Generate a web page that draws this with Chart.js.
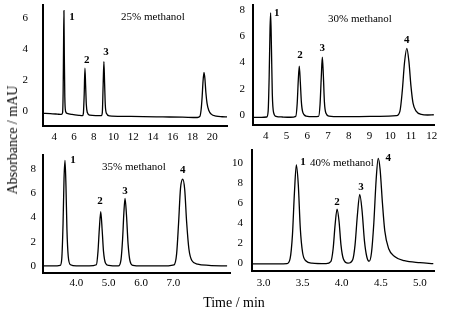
<!DOCTYPE html>
<html><head><meta charset="utf-8">
<script src="https://cdn.jsdelivr.net/npm/chart.js@4/dist/chart.umd.min.js"></script>
<style>
html,body{margin:0;padding:0;background:#fff;}
#wrap{position:relative;width:450px;height:318px;overflow:hidden;font-family:'Liberation Serif','Times New Roman',serif;color:#000;}
canvas{position:absolute;}
.lbl{position:absolute;white-space:nowrap;transform:translate(-50%,-50%);font-size:11px;line-height:1;}
#ytitle{position:absolute;left:13px;top:140px;white-space:nowrap;transform:translate(-50%,-50%) rotate(-90deg);font-size:14px;line-height:1;}
#xtitle{position:absolute;left:234px;top:303px;white-space:nowrap;transform:translate(-50%,-50%);font-size:14px;line-height:1;}
</style></head><body>
<div id="wrap">
<canvas id="c25"></canvas>
<canvas id="c30"></canvas>
<canvas id="c35"></canvas>
<canvas id="c40"></canvas>
<div class="lbl" style="left:153px;top:16px">25% methanol</div>
<div class="lbl" style="left:360px;top:18px">30% methanol</div>
<div class="lbl" style="left:134px;top:166px">35% methanol</div>
<div class="lbl" style="left:342px;top:162px">40% methanol</div>
<div id="ytitle">Absorbance / mAU</div>
<div id="xtitle">Time / min</div>
</div>
<script>
// ---- 25% methanol ----
const t25 = [2.86, 3.6, 4.3, 4.72, 4.84, 4.9, 4.94, 4.98, 5.02, 5.07, 5.14, 5.3, 5.8, 6.5, 6.86, 6.95, 7.03, 7.11, 7.18, 7.25, 7.35, 7.6, 8.2, 8.78, 8.87, 8.95, 9.03, 9.1, 9.17, 9.28, 9.6, 11.0, 13.0, 15.0, 17.0, 18.5, 18.75, 18.88, 18.98, 19.07, 19.17, 19.26, 19.36, 19.48, 19.65, 19.9, 20.4, 21.0, 21.5];
const a25 = [-0.15, -0.17, -0.2, -0.22, -0.12, 1.2, 4.0, 6.5, 3.6, 0.9, 0.0, -0.15, -0.22, -0.28, -0.3, -0.15, 1.0, 2.77, 1.6, 0.4, -0.1, -0.27, -0.3, -0.3, -0.1, 1.6, 3.2, 1.8, 0.4, -0.15, -0.32, -0.35, -0.36, -0.38, -0.4, -0.42, -0.35, 0.1, 0.9, 1.9, 2.5, 2.1, 1.2, 0.5, 0.05, -0.2, -0.33, -0.37, -0.38];
const peaks25 = [4.98, 7.11, 9.03];
const xTicks25 = [4, 6, 8, 10, 12, 14, 16, 18, 20];
const yTicks25 = [0, 2, 4, 6];

// ---- 30% methanol ----
const t30 = [3.39, 3.8, 4.05, 4.12, 4.17, 4.21, 4.24, 4.28, 4.32, 4.38, 4.5, 4.8, 5.2, 5.45, 5.52, 5.57, 5.62, 5.67, 5.72, 5.79, 5.95, 6.3, 6.55, 6.62, 6.68, 6.73, 6.78, 6.83, 6.9, 7.05, 7.6, 8.5, 9.5, 10.3, 10.47, 10.58, 10.69, 10.8, 10.9, 11.0, 11.1, 11.25, 11.5, 11.8, 12.1];
const a30 = [-0.18, -0.18, -0.15, 0.3, 3.0, 6.5, 7.77, 5.0, 1.6, 0.2, -0.1, -0.15, -0.17, -0.1, 0.9, 2.6, 3.73, 2.5, 1.0, 0.2, -0.08, -0.12, -0.1, 0.8, 2.9, 4.4, 3.0, 1.0, 0.15, -0.08, -0.12, -0.12, -0.1, -0.05, 0.3, 1.8, 4.0, 5.08, 4.1, 2.2, 0.9, 0.3, 0.05, 0.0, 0.02];
const peaks30 = [4.24, 5.62, 6.73, 10.8];
const xTicks30 = [4, 5, 6, 7, 8, 9, 10, 11, 12];
const yTicks30 = [0, 2, 4, 6, 8];

// ---- 35% methanol ----
const t35 = [2.97, 3.3, 3.5, 3.55, 3.59, 3.62, 3.65, 3.68, 3.71, 3.75, 3.82, 4.0, 4.4, 4.62, 4.67, 4.71, 4.755, 4.8, 4.84, 4.9, 5.0, 5.3, 5.38, 5.43, 5.47, 5.506, 5.55, 5.6, 5.66, 5.75, 6.0, 6.6, 7.02, 7.1, 7.16, 7.22, 7.29, 7.35, 7.41, 7.48, 7.57, 7.75, 8.1, 8.66];
const a35 = [0.0, 0.0, 0.05, 0.6, 3.5, 7.2, 8.7, 6.6, 3.0, 0.8, 0.1, 0.0, 0.0, 0.1, 1.2, 3.0, 4.48, 2.9, 1.2, 0.25, 0.05, 0.0, 0.5, 2.2, 4.4, 5.58, 4.2, 1.8, 0.4, 0.05, 0.0, 0.0, 0.1, 1.0, 3.5, 6.4, 7.15, 6.3, 3.6, 1.4, 0.45, 0.15, 0.05, 0.0];
const peaks35 = [3.65, 4.755, 5.506, 7.29];
const xTicks35 = [4.0, 5.0, 6.0, 7.0];
const yTicks35 = [0, 2, 4, 6, 8];

// ---- 40% methanol ----
const t40 = [2.85, 3.2, 3.3, 3.34, 3.37, 3.395, 3.42, 3.445, 3.47, 3.5, 3.54, 3.62, 3.8, 3.86, 3.89, 3.915, 3.94, 3.965, 3.99, 4.02, 4.08, 4.14, 4.17, 4.2, 4.23, 4.26, 4.29, 4.32, 4.35, 4.38, 4.41, 4.44, 4.466, 4.49, 4.52, 4.55, 4.6, 4.68, 4.8, 5.0, 5.17];
const a40 = [-0.12, -0.12, -0.1, 0.4, 2.8, 7.0, 9.83, 7.8, 3.5, 1.0, 0.2, -0.05, -0.1, 0.1, 1.4, 3.8, 5.4, 4.2, 1.8, 0.4, -0.05, 0.3, 1.8, 4.8, 6.88, 5.2, 2.2, 0.6, 0.15, 1.0, 4.0, 8.4, 10.5, 9.4, 6.0, 3.2, 1.4, 0.6, 0.2, 0.0, -0.1];
const peaks40 = [3.42, 3.94, 4.23, 4.466];
const xTicks40 = [3.0, 3.5, 4.0, 4.5, 5.0];
const yTicks40 = [0, 2, 4, 6, 8, 10];

const peakNames = ['1', '2', '3', '4'];

const FONT = "'Liberation Serif','Times New Roman',serif";
const YW = 40, PT = 30, PR = 16, XH = 30;

const peakLabelPlugin = {
  id: 'peakLabels',
  afterDatasetsDraw(chart, args, opts) {
    const {ctx, scales: {x, y}} = chart;
    ctx.save();
    ctx.font = 'bold 11px ' + FONT;
    ctx.fillStyle = '#000';
    ctx.textAlign = 'center';
    ctx.textBaseline = 'middle';
    opts.peaks.forEach((pt, i) => {
      let best = 0;
      opts.t.forEach((tv, k) => { if (Math.abs(tv - pt) < Math.abs(opts.t[best] - pt)) best = k; });
      const off = opts.off[i];
      ctx.fillText(peakNames[i], x.getPixelForValue(opts.t[best]) + off[0], y.getPixelForValue(opts.a[best]) + off[1]);
    });
    ctx.restore();
  }
};

function panel(id, area, t, a, peaks, off, xTicks, yTicks, xr, yr, fmt, ypad, xpad) {
  const cv = document.getElementById(id);
  const w = (area[2] - area[0]) + YW + PR;
  const h = (area[3] - area[1]) + PT + XH;
  cv.width = w; cv.height = h;
  cv.style.width = w + 'px'; cv.style.height = h + 'px';
  cv.style.left = (area[0] - YW) + 'px';
  cv.style.top = (area[1] - PT) + 'px';
  new Chart(cv, {
    type: 'line',
    data: {
      datasets: [{
        data: t.map((v, i) => ({x: v, y: a[i]})),
        borderColor: '#000',
        borderWidth: 1.3,
        pointRadius: 0,
        fill: false,
        cubicInterpolationMode: 'monotone'
      }]
    },
    options: {
      responsive: false,
      devicePixelRatio: 1,
      animation: false,
      layout: {padding: {top: PT, right: PR, left: 0, bottom: 0}},
      plugins: {
        legend: {display: false},
        tooltip: {enabled: false},
        peakLabels: {t: t, a: a, peaks: peaks, off: off}
      },
      scales: {
        x: {
          type: 'linear', min: xr[0], max: xr[1],
          afterFit: s => { s.height = XH; },
          afterBuildTicks: s => { s.ticks = xTicks.map(v => ({value: v})); },
          grid: {display: false, drawTicks: false},
          border: {display: true, color: '#000', width: 2},
          ticks: {
            padding: xpad, color: '#000', maxRotation: 0, autoSkip: false,
            font: {family: FONT, size: 11},
            callback: v => fmt(v)
          }
        },
        y: {
          type: 'linear', min: yr[0], max: yr[1],
          afterFit: s => { s.width = YW; },
          afterBuildTicks: s => { s.ticks = yTicks.map(v => ({value: v})); },
          grid: {display: false, drawTicks: false},
          border: {display: true, color: '#000', width: 2},
          ticks: {
            padding: ypad, color: '#000', autoSkip: false,
            font: {family: FONT, size: 11},
            callback: v => String(v)
          }
        }
      }
    },
    plugins: [peakLabelPlugin]
  });
}

const intFmt = v => String(v);
const decFmt = v => Number(v).toFixed(1);

panel('c25', [43, 5, 227, 126], t25, a25, peaks25,
  [[8, 6.4], [1.7, -8.2], [2, -9.6]],
  xTicks25, yTicks25, [2.86, 21.5], [-0.97, 6.86], intFmt, 15, 5);
panel('c30', [253, 5, 434, 125], t30, a30, peaks30,
  [[6, 0], [0.7, -10.7], [0, -9], [0, -8.3]],
  xTicks30, yTicks30, [3.39, 12.11], [-0.76, 8.38], intFmt, 8, 5);
panel('c35', [43, 155, 230, 273], t35, a35, peaks35,
  [[8, 0], [-0.7, -10.7], [0, -7.6], [0, -9.3]],
  xTicks35, yTicks35, [2.97, 8.75], [-0.58, 9.15], decFmt, 7, 4);
panel('c40', [252, 150, 434, 271], t40, a40, peaks40,
  [[6.6, -2.5], [0, -6.7], [1.3, -7.6], [10, -0.6]],
  xTicks40, yTicks40, [2.853, 5.179], [-0.835, 11.34], decFmt, 9, 6);
</script>
</body></html>
